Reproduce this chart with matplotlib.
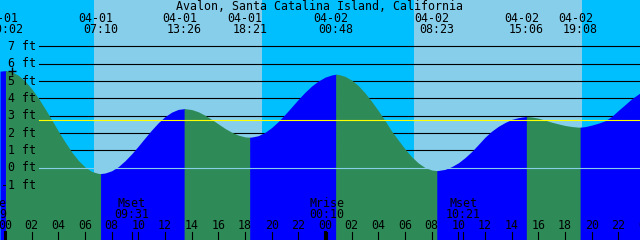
import matplotlib
matplotlib.use("Agg")
import matplotlib.pyplot as plt
from matplotlib.transforms import blended_transform_factory, offset_copy

title = "Avalon, Santa Catalina Island, California"

# tide extremes, hours after 04-01 00:00, height in ft
event_hours = [0.033, 7.167, 13.433, 18.35, 24.8, 32.383, 39.1, 43.133]
event_heights = [5.6, -0.35, 3.4, 1.75, 5.39, -0.18, 2.95, 2.33]
event_dates = ["04-01", "04-01", "04-01", "04-01", "04-02", "04-02", "04-02", "04-02"]
event_times = ["00:02", "07:10", "13:26", "18:21", "00:48", "08:23", "15:06", "19:08"]

hours = [i / 2 for i in range(1, 96)]
levels = [5.54, 5.33, 5.00, 4.55, 4.01, 3.40, 2.76, 2.10, 1.48, 0.90,
          0.41, 0.03, -0.23, -0.34, -0.32, -0.19, 0.05, 0.39, 0.79, 1.24,
          1.71, 2.17, 2.59, 2.94, 3.20, 3.36, 3.40, 3.35, 3.22, 3.02,
          2.78, 2.52, 2.26, 2.04, 1.87, 1.77, 1.76, 1.84, 2.03, 2.31,
          2.66, 3.07, 3.50, 3.94, 4.35, 4.71, 5.00, 5.22, 5.35, 5.38,
          5.27, 5.05, 4.73, 4.31, 3.82, 3.28, 2.71, 2.10, 1.58, 1.07,
          0.62, 0.26, 0.00, -0.145, -0.17, -0.11, 0.05, 0.27, 0.57, 0.92,
          1.33, 1.75, 2.10, 2.38, 2.60, 2.78, 2.88, 2.94, 2.92, 2.85,
          2.74, 2.62, 2.52, 2.43, 2.37, 2.33, 2.36, 2.45, 2.56, 2.70,
          2.95, 3.30, 3.63, 3.97, 4.24]
# levels at the left and right edges of the chart
edge_hours = [-0.375, 47.625]
edge_levels = [5.57, 4.31]

sunrise_hours = [6.675, 30.675]
sunset_hours = [19.275, 43.275]

moon_hours = [-1.183, 9.517, 24.167, 34.35]
moon_labels = ["Mrise", "Mset", "Mrise", "Mset"]
moon_times = ["22:49", "09:31", "00:10", "10:21"]

ft_levels = [7, 6, 5, 4, 3, 2, 1, 0, -1]
mean_level = 2.73

night = "#00bfff"
day = "#87ceeb"
falling = "#2e8b57"
rising = "#0000ff"

W, H = 640, 240
fig = plt.figure(figsize=(6.4, 2.4), dpi=100)
ax = fig.add_axes([0, 0, 1, 1])
ax.set_xlim(edge_hours[0], edge_hours[1])
ax.set_ylim((167.5 - H) / 17.3, 167.5 / 17.3)
ax.axis("off")

# sky: night / day bands
bounds = [edge_hours[0], sunrise_hours[0], sunset_hours[0], sunrise_hours[1],
          sunset_hours[1], edge_hours[1]]
for i in range(len(bounds) - 1):
    ax.axvspan(bounds[i], bounds[i + 1], color=night if i % 2 == 0 else day,
               lw=0, zorder=0)

# foot lines
for v in ft_levels:
    if v > 0:
        ax.axhline(v, xmin=39 / W, xmax=1, color="black", lw=0.8, zorder=1)

# water, green when falling, blue when rising
pts = sorted(zip(hours + event_hours + edge_hours, levels + event_heights + edge_levels))
bottom = ax.get_ylim()[0]
cuts = [edge_hours[0]] + event_hours + [edge_hours[1]]
for a, b in zip(cuts[:-1], cuts[1:]):
    seg = [p for p in pts if a <= p[0] <= b]
    ts = [p[0] for p in seg]
    hs = [p[1] for p in seg]
    col = rising if hs[-1] > hs[0] else falling
    # stretch a hair past the turning point so no seam opens
    ts.append(ts[-1] + 0.05)
    hs.append(hs[-1])
    ax.fill_between(ts, hs, bottom, color=col, lw=0, antialiased=False, zorder=2)

ax.axhline(0, xmin=39 / W, xmax=1, color=day, lw=0.8, zorder=3)
ax.axhline(mean_level, xmin=39 / W, xmax=1, color="#ffff00", lw=0.8, zorder=3)

font = dict(family="DejaVu Sans Mono", fontsize=8.4, color="black", zorder=5)
tx = blended_transform_factory(ax.transData, ax.transAxes)


def ypix(p):
    return 1 - p / H


ax.text(0.5, ypix(10.3), title, transform=ax.transAxes, ha="center",
        va="baseline", **font)

for t, d, s in zip(event_hours, event_dates, event_times):
    ax.text(t - 0.34, ypix(21.7), d, transform=tx, ha="center", va="baseline", **font)
    ax.text(t, ypix(33.3), s, transform=tx, ha="center", va="baseline", **font)

lab_tr = blended_transform_factory(ax.transAxes, offset_copy(ax.transData, fig, y=-3.8, units="dots"))
for v in ft_levels:
    ax.text(36 / W, v, f"{v} ft", transform=lab_tr, ha="right", va="baseline", **font)

ax.plot([0.49], [5.55], marker="+", ms=6, mew=1, color="black", zorder=5)

for t, lab, s in zip(moon_hours, moon_labels, moon_times):
    ax.text(t, ypix(206.7), lab, transform=tx, ha="center", va="baseline", **font)
    ax.text(t, ypix(217.7), s, transform=tx, ha="center", va="baseline", **font)
    ax.axvline(t, ymin=0, ymax=8 / H, color="black", lw=0.8, zorder=5)

for h in range(0, 50, 2):
    ax.text(h, ypix(229.3), f"{h % 24:02d}", transform=tx, ha="center",
            va="baseline", **font)
    ax.axvline(h, ymin=0, ymax=8 / H, color="black",
               lw=2.2 if h % 24 == 0 else 0.8, zorder=5)

fig.savefig("out.png", dpi=100)
